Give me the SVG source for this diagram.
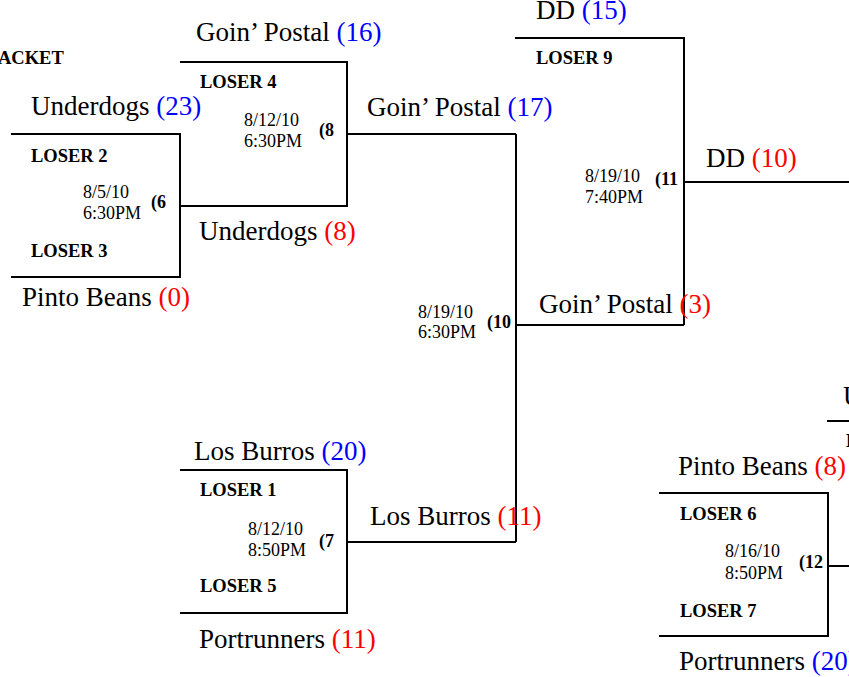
<svg xmlns="http://www.w3.org/2000/svg" width="849" height="677" viewBox="0 0 849 677">
<style>
text { font-family: "Liberation Serif", "Times New Roman", serif; fill: #000; }
.team { font-size: 27px; }
.lose { font-size: 18.5px; font-weight: bold; }
.date { font-size: 18px; }
.num { font-size: 18px; font-weight: bold; }
.b { fill: #0000FF; }
.r { fill: #FF0000; }
.ln { stroke: #000; stroke-width: 2; fill: none; }
</style>
<rect width="849" height="677" fill="#fff"/>
<g id="connectors">
  <polyline class="ln" points="11,134 180,134 180,277 11,277"/>
  <polyline class="ln" points="180,62 347,62 347,206 180,206"/>
  <line class="ln" x1="347" y1="134" x2="516" y2="134"/>
  <polyline class="ln" points="180,470 347,470 347,613 180,613"/>
  <line class="ln" x1="347" y1="542" x2="516" y2="542"/>
  <line class="ln" x1="516" y1="134" x2="516" y2="542"/>
  <line class="ln" x1="516" y1="325" x2="684" y2="325"/>
  <polyline class="ln" points="515,38 684,38 684,325"/>
  <line class="ln" x1="684" y1="182" x2="849" y2="182"/>
  <polyline class="ln" points="659,493 828,493 828,636 659,636"/>
  <line class="ln" x1="828" y1="566" x2="849" y2="566"/>
  <line class="ln" x1="827" y1="421" x2="849" y2="421"/>
</g>
<g id="title"><text class="lose" x="-2" y="64">ACKET</text></g>
<g id="game6">
  <text class="team" x="31" y="115">Underdogs <tspan class="b">(23)</tspan></text>
  <text class="lose" x="31" y="162">LOSER 2</text>
  <text class="date" x="83" y="198">8/5/10</text>
  <text class="date" x="83" y="219">6:30PM</text>
  <text class="num" x="151" y="208">(6</text>
  <text class="lose" x="31" y="257">LOSER 3</text>
  <text class="team" x="22" y="306">Pinto Beans <tspan class="r">(0)</tspan></text>
</g>
<g id="game8">
  <text class="team" x="196" y="41">Goin’ Postal <tspan class="b">(16)</tspan></text>
  <text class="lose" x="200" y="88">LOSER 4</text>
  <text class="date" x="244" y="126">8/12/10</text>
  <text class="date" x="244" y="147">6:30PM</text>
  <text class="num" x="319" y="136">(8</text>
  <text class="team" x="199" y="240">Underdogs <tspan class="r">(8)</tspan></text>
</g>
<g id="game7">
  <text class="team" x="194" y="460">Los Burros <tspan class="b">(20)</tspan></text>
  <text class="lose" x="200" y="496">LOSER 1</text>
  <text class="date" x="248" y="535">8/12/10</text>
  <text class="date" x="248" y="556">8:50PM</text>
  <text class="num" x="319" y="547">(7</text>
  <text class="lose" x="200" y="592">LOSER 5</text>
  <text class="team" x="199" y="648">Portrunners <tspan class="r">(11)</tspan></text>
</g>
<g id="game10">
  <text class="team" x="367" y="116">Goin’ Postal <tspan class="b">(17)</tspan></text>
  <text class="date" x="418" y="318">8/19/10</text>
  <text class="date" x="418" y="338">6:30PM</text>
  <text class="num" x="487" y="328">(10</text>
  <text class="team" x="370" y="525">Los Burros <tspan class="r">(11)</tspan></text>
</g>
<g id="game11">
  <text class="team" x="536" y="19">DD <tspan class="b">(15)</tspan></text>
  <text class="lose" x="536" y="64">LOSER 9</text>
  <text class="date" x="585" y="182">8/19/10</text>
  <text class="date" x="585" y="203">7:40PM</text>
  <text class="num" x="655" y="185">(11</text>
  <text class="team" x="539" y="313">Goin’ Postal <tspan class="r">(3)</tspan></text>
  <text class="team" x="706" y="167">DD <tspan class="r">(10)</tspan></text>
</g>
<g id="game12">
  <text class="team" x="678" y="475">Pinto Beans <tspan class="r">(8)</tspan></text>
  <text class="lose" x="680" y="520">LOSER 6</text>
  <text class="date" x="725" y="557">8/16/10</text>
  <text class="date" x="725" y="579">8:50PM</text>
  <text class="num" x="799" y="568">(12</text>
  <text class="lose" x="680" y="617">LOSER 7</text>
  <text class="team" x="679" y="670">Portrunners <tspan class="b">(20)</tspan></text>
</g>
<g id="game-offright">
  <text class="team" x="843" y="405">U</text>
  <text class="lose" x="846" y="447">L</text>
</g>
</svg>
